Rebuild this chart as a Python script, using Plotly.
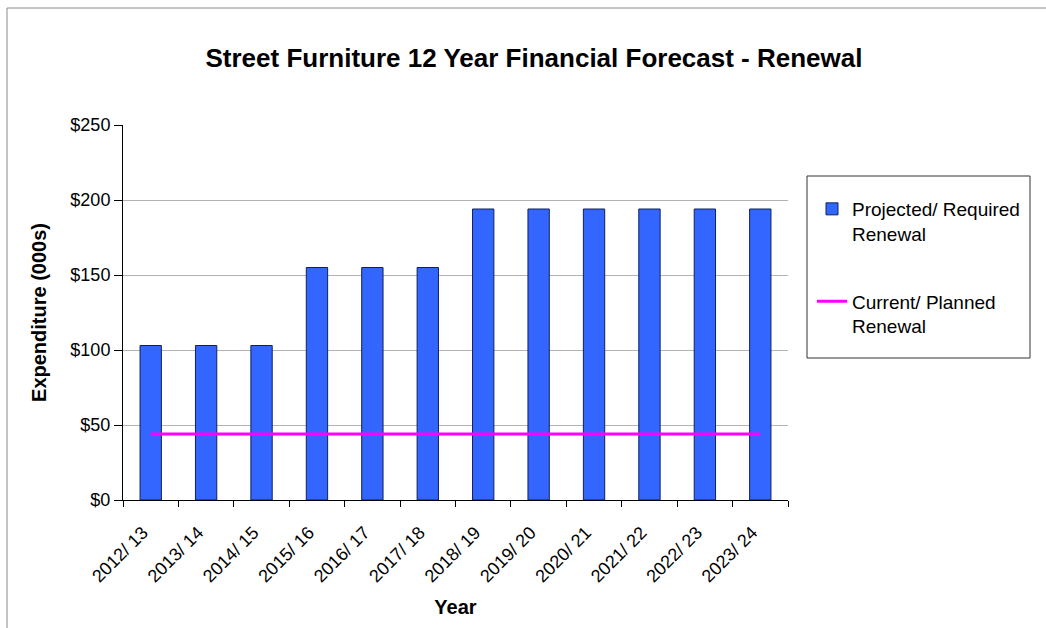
import plotly.graph_objects as go

years = ["2012/ 13", "2013/ 14", "2014/ 15", "2015/ 16", "2016/ 17", "2017/ 18",
         "2018/ 19", "2019/ 20", "2020/ 21", "2021/ 22", "2022/ 23", "2023/ 24"]
projected = [103, 103, 103, 155, 155, 155, 194, 194, 194, 194, 194, 194]
planned = [44, 44, 44, 44, 44, 44, 44, 44, 44, 44, 44, 44]
y_ticks = [0, 50, 100, 150, 200, 250]
y_tick_labels = ["$0", "$50", "$100", "$150", "$200", "$250"]

FONT = "Liberation Sans, Arial, sans-serif"

# plot area in pixels
L, R, T, B = 123, 788, 125, 500
W, H = 1046, 628


def px_x(p):
    return (p - L) / (R - L)


def px_y(p):
    return (B - p) / (B - T)


fig = go.Figure()
fig.add_trace(go.Bar(
    x=years, y=projected, name="Projected/ Required<br>Renewal",
    marker=dict(color="#3366FF", line=dict(color="#10205a", width=1)),
    width=0.385, legendgroup="a",
))
fig.add_trace(go.Scatter(
    x=years, y=planned, name="Current/ Planned<br>Renewal", mode="lines",
    line=dict(color="#FF00FF", width=3), legendgroup="b",
))

fig.update_layout(
    width=W, height=H,
    margin=dict(l=L, r=W - R, t=T, b=H - B, autoexpand=False),
    paper_bgcolor="white", plot_bgcolor="white",
    font=dict(family=FONT, size=18, color="black"),
    title=dict(text="<b>Street Furniture 12 Year Financial Forecast - Renewal</b>",
               x=534 / W, xanchor="center", y=1 - 58 / H, yanchor="middle",
               font=dict(size=26, family=FONT)),
    showlegend=True,
    legend=dict(x=px_x(812), y=px_y(190), xanchor="left", yanchor="top",
                borderwidth=0, bgcolor="rgba(0,0,0,0)",
                font=dict(size=19, family=FONT), tracegroupgap=40,
                valign="top"),
)

fig.update_xaxes(
    type="category", tickangle=-45, tickson="boundaries",
    ticks="outside", ticklen=6, tickcolor="black",
    showline=True, linecolor="black", linewidth=1,
    tickfont=dict(size=18, family=FONT),
    ticklabelstandoff=14, ticklabelshift=-8,
    title=dict(text="<b>Year</b>", font=dict(size=20, family=FONT), standoff=14),
)
fig.update_yaxes(
    range=[0, 250], tickvals=y_ticks, ticktext=y_tick_labels,
    ticks="outside", ticklen=8, tickcolor="black",
    showline=True, linecolor="black", linewidth=1,
    showgrid=True, gridcolor="#b3b3b3", gridwidth=1, zeroline=False,
    tickfont=dict(size=18, family=FONT),
    title=dict(text="<b>Expenditure (000s)</b>", font=dict(size=20, family=FONT), standoff=18),
)

# outer chart-area frame
fig.add_shape(type="rect", xref="paper", yref="paper",
              x0=px_x(7), x1=2.0, y0=-1.0, y1=px_y(8),
              line=dict(color="#8a8a8a", width=1), layer="below")
# legend frame
fig.add_shape(type="rect", xref="paper", yref="paper",
              x0=px_x(807), x1=px_x(1030), y0=px_y(358), y1=px_y(176),
              line=dict(color="#333333", width=1), fillcolor="rgba(0,0,0,0)")

fig.write_html("out.html")
